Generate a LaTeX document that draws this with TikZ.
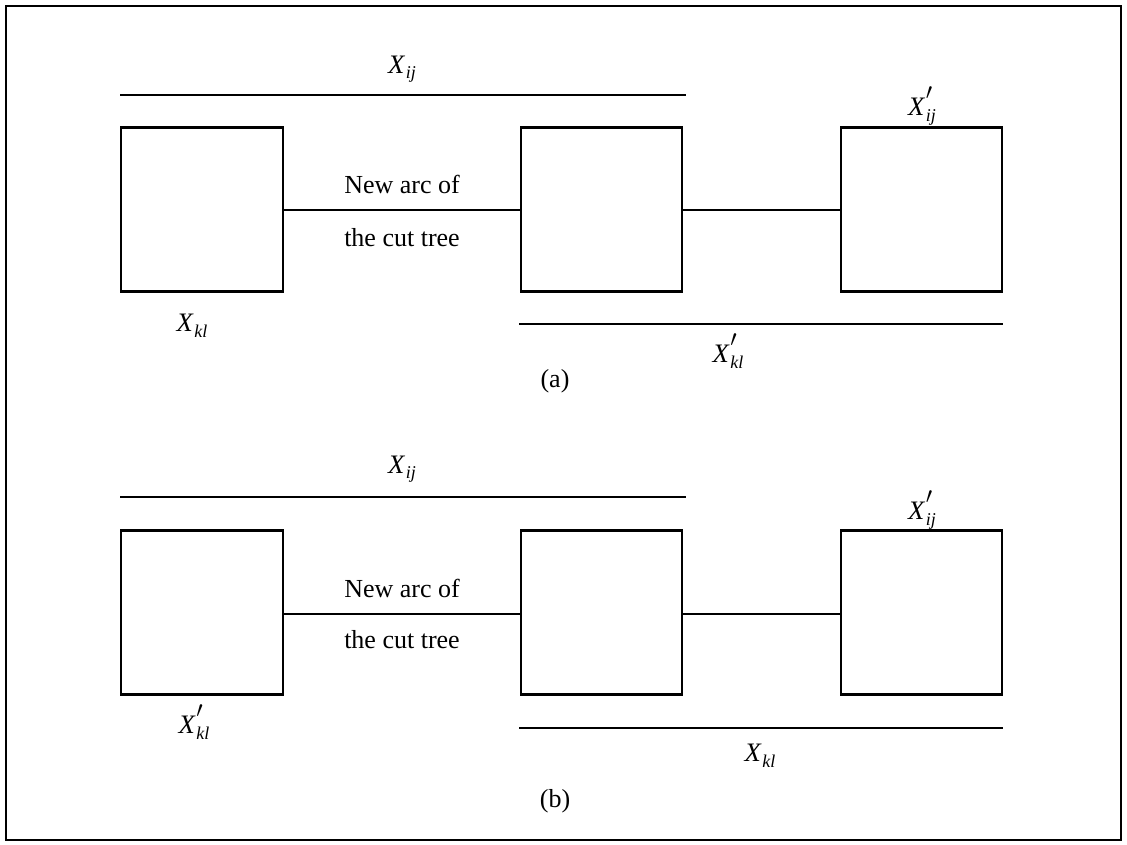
\documentclass[tikz,border=0pt]{standalone}
\usepackage{fontspec}
\setmainfont{Liberation Serif}
\newcommand{\subsz}{\fontsize{13.5}{13.5}\selectfont}
\newcommand{\Xs}[1]{\textit{X}\kern0.03em\raisebox{-0.45ex}{\subsz\textit{#1}}}
\newcommand{\Xps}[1]{\textit{X}\kern0.03em\rlap{\raisebox{1.3ex}{\fontsize{16}{16}\selectfont$\prime$}}\raisebox{-0.45ex}{\subsz\textit{#1}}}
\begin{document}
\begin{tikzpicture}[x=0.75pt,y=-0.75pt,
  setbox/.style={draw,line width=1.6pt,minimum width=121pt,minimum height=123pt,inner sep=0pt},
  arcline/.style={line width=1pt},
  spanline/.style={line width=1.2pt},
  lbl/.style={font=\fontsize{20}{22}\selectfont,inner sep=1pt},
  txt/.style={font=\fontsize{19.5}{22}\selectfont,inner sep=1pt}]
\useasboundingbox (0,0) rectangle (1127,844);
\draw[line width=1.5pt] (6,6) rectangle (1121,840);

% ---------- (a) ----------
\node[setbox] (a1) at (202,209.5) {};
\node[setbox] (a2) at (601.5,209.5) {};
\node[setbox] (a3) at (921.5,209.5) {};
\draw[arcline] (a1.east |- 0,210) -- (a2.west |- 0,210);
\draw[arcline] (a2.east |- 0,210) -- (a3.west |- 0,210);
\node[txt] (an1) at (402,184) {New arc of};
\node[txt] (an2) at (402,238) {the cut tree};
\coordinate (aT1) at (120,95);
\coordinate (aT2) at (686,95);
\draw[spanline] (aT1) -- (aT2);
\node[lbl] (aXij) at (402,69) {\Xs{ij}};
\node[lbl] (aXpij) at (922,106) {\Xps{ij}};
\node[lbl] (aXkl) at (192,326) {\Xs{kl}};
\coordinate (aB1) at (519,324);
\coordinate (aB2) at (1003,324);
\draw[spanline] (aB1) -- (aB2);
\node[lbl] (aXpkl) at (728,351) {\Xps{kl}};
\node[txt] (acap) at (555,381) {(a)};

% ---------- (b) ----------
\node[setbox] (b1) at (202,612.5) {};
\node[setbox] (b2) at (601.5,612.5) {};
\node[setbox] (b3) at (921.5,612.5) {};
\draw[arcline] (b1.east |- 0,614) -- (b2.west |- 0,614);
\draw[arcline] (b2.east |- 0,614) -- (b3.west |- 0,614);
\node[txt] (bn1) at (402,588) {New arc of};
\node[txt] (bn2) at (402,640) {the cut tree};
\coordinate (bT1) at (120,497);
\coordinate (bT2) at (686,497);
\draw[spanline] (bT1) -- (bT2);
\node[lbl] (bXij) at (402,469) {\Xs{ij}};
\node[lbl] (bXpij) at (922,510) {\Xps{ij}};
\node[lbl] (bXpkl) at (194,722) {\Xps{kl}};
\coordinate (bB1) at (519,728);
\coordinate (bB2) at (1003,728);
\draw[spanline] (bB1) -- (bB2);
\node[lbl] (bXkl) at (760,756) {\Xs{kl}};
\node[txt] (bcap) at (555,801) {(b)};
\end{tikzpicture}
\end{document}
